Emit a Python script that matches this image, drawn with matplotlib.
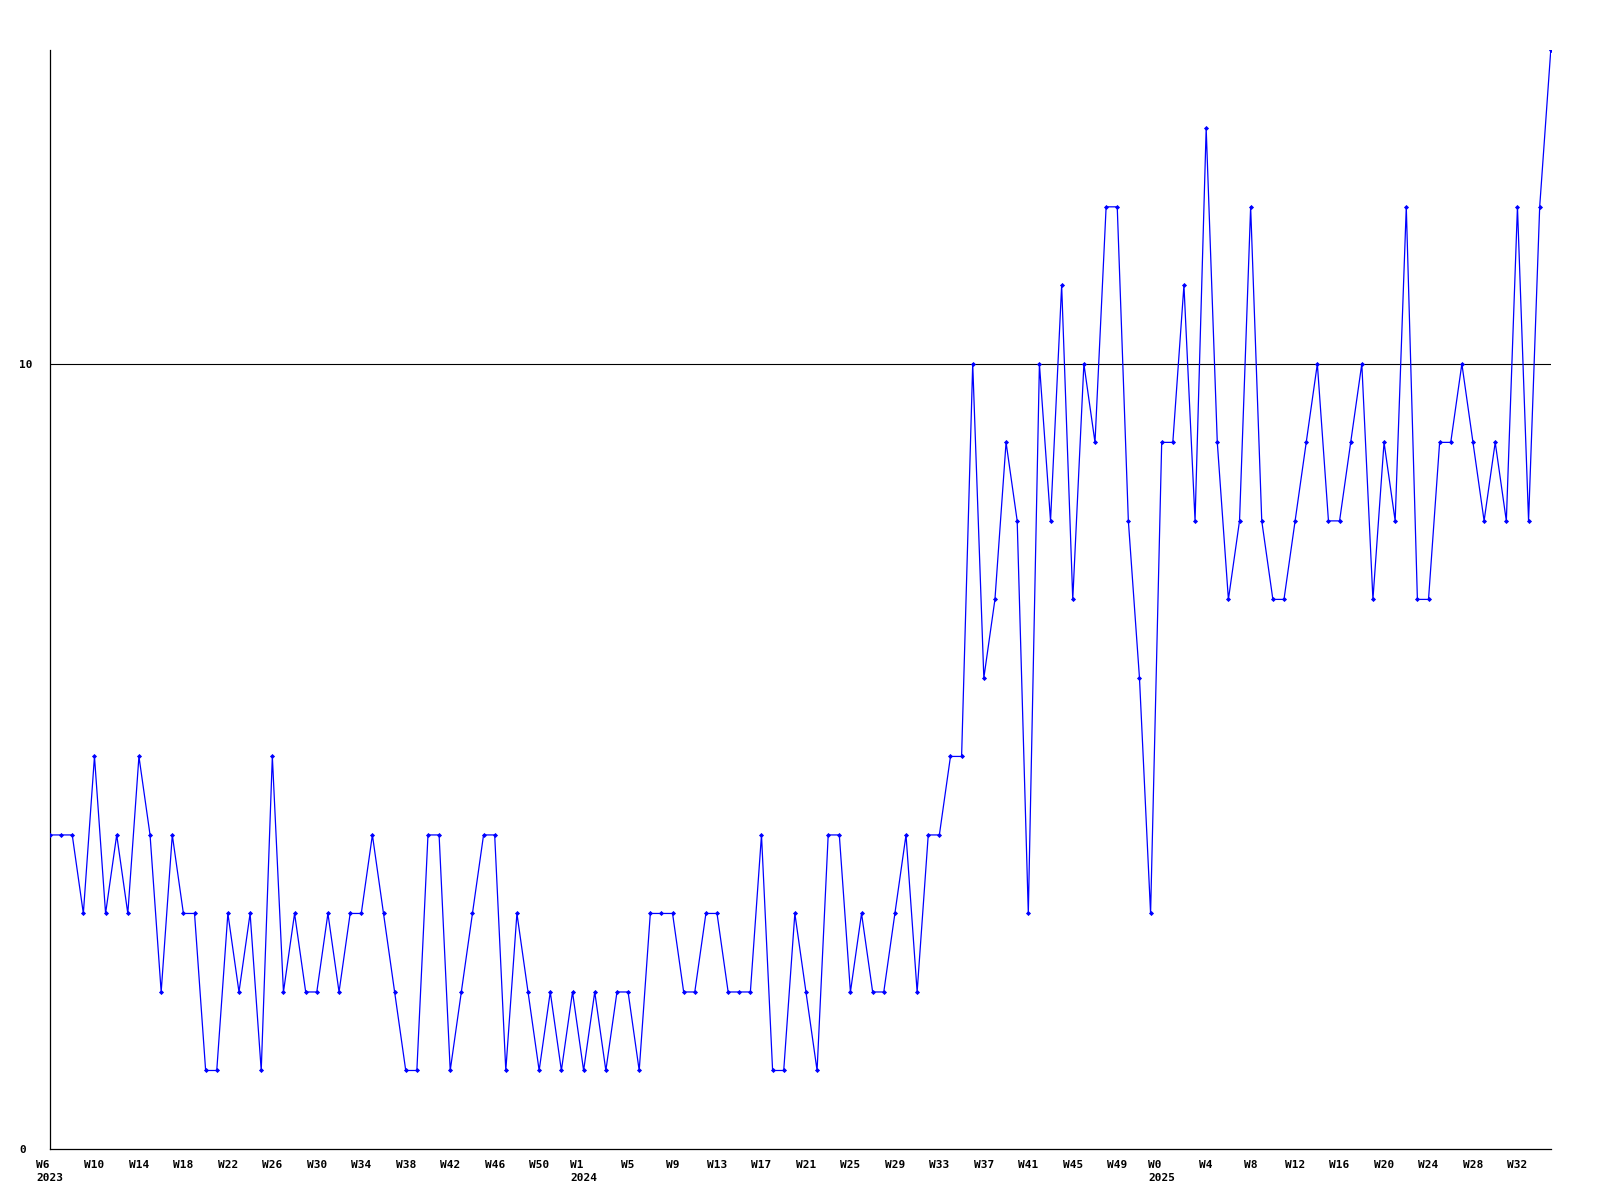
import matplotlib
matplotlib.use('Agg')
import matplotlib.pyplot as plt

# weekly counts, 2023 W6 .. 2025 W35
weeks = list(range(6, 54)) + list(range(1, 53)) + list(range(0, 36))
years = [2023] * 48 + [2024] * 52 + [2025] * 36
values = [4, 4, 4, 3, 5, 3, 4, 3, 5, 4,
          2, 4, 3, 3, 1, 1, 3, 2, 3, 1,
          5, 2, 3, 2, 2, 3, 2, 3, 3, 4,
          3, 2, 1, 1, 4, 4, 1, 2, 3, 4,
          4, 1, 3, 2, 1, 2, 1, 2, 1, 2,
          1, 2, 2, 1, 3, 3, 3, 2, 2, 3,
          3, 2, 2, 2, 4, 1, 1, 3, 2, 1,
          4, 4, 2, 3, 2, 2, 3, 4, 2, 4,
          4, 5, 5, 10, 6, 7, 9, 8, 3, 10,
          8, 11, 7, 10, 9, 12, 12, 8, 6, 3,
          9, 9, 11, 8, 13, 9, 7, 8, 12, 8,
          7, 7, 8, 9, 10, 8, 8, 9, 10, 7,
          9, 8, 12, 7, 7, 9, 9, 10, 9, 8,
          9, 8, 12, 8, 12, 14]
y_ticks = [0, 10]

x = list(range(len(values)))

fig = plt.figure(figsize=(16, 12), dpi=100)
ax = fig.add_axes([0.03125, 0.0425, 0.938, 0.916])

ax.plot(x, values, color='#0000ff', linewidth=0.9, marker='D',
        markersize=2.6, markeredgewidth=0, zorder=3)

ax.set_xlim(0, len(values) - 1)
ax.set_ylim(0, 14)

# x ticks every 4 weeks, year under first tick of each year
tick_pos = x[::4]
tick_lab = []
seen = set()
for i in tick_pos:
    lab = 'W%d' % weeks[i]
    if years[i] not in seen:
        seen.add(years[i])
        lab += '\n%d' % years[i]
    tick_lab.append(lab)
ax.set_xticks(tick_pos)
ax.set_xticklabels(tick_lab, family='DejaVu Sans Mono', fontweight='bold',
                   fontsize=8, linespacing=1.3, multialignment='left')

ax.set_yticks(y_ticks)
ax.set_yticklabels([str(v) for v in y_ticks], family='DejaVu Sans Mono',
                   fontweight='bold', fontsize=8, ha='left')
ax.tick_params(axis='y', length=0, pad=22)
ax.tick_params(axis='x', length=0, pad=8)

ax.axhline(10, color='black', linewidth=0.8, zorder=2)

ax.spines['top'].set_visible(False)
ax.spines['right'].set_visible(False)
ax.spines['left'].set_linewidth(0.9)
ax.spines['bottom'].set_linewidth(0.9)

plt.savefig('out.png', dpi=100)
